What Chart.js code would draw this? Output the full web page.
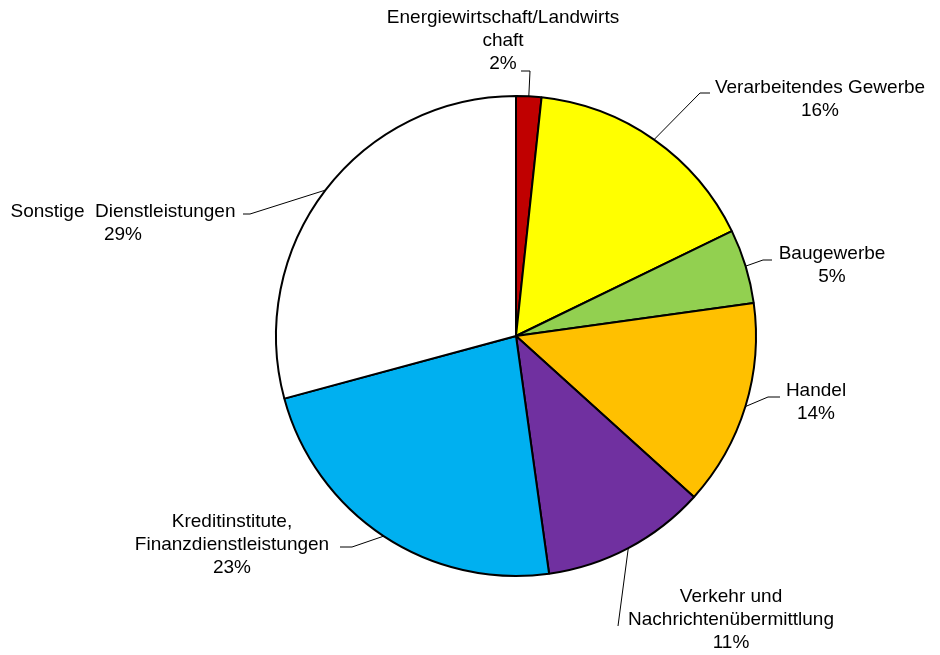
<!DOCTYPE html>
<html>
<head>
<meta charset="utf-8">
<script src="https://cdn.jsdelivr.net/npm/chart.js@4"></script>
<style>
  html, body { margin: 0; padding: 0; background: #fff; }
  #wrap { width: 940px; height: 655px; }
</style>
</head>
<body>
<div id="wrap"><canvas id="pie" width="940" height="655"></canvas></div>
<script>
(function () {
  "use strict";

  const categories = [
    "Energiewirtschaft/Landwirtschaft",
    "Verarbeitendes Gewerbe",
    "Baugewerbe",
    "Handel",
    "Verkehr und Nachrichtenübermittlung",
    "Kreditinstitute, Finanzdienstleistungen",
    "Sonstige Dienstleistungen",
  ];
  // shares in percent
  const shares = [1.7, 16.1, 5.0, 13.9, 11.1, 23.0, 29.2];
  const labelLines = [
    ["Energiewirtschaft/Landwirts", "chaft"],
    ["Verarbeitendes Gewerbe"],
    ["Baugewerbe"],
    ["Handel"],
    ["Verkehr und", "Nachrichtenübermittlung"],
    ["Kreditinstitute,", "Finanzdienstleistungen"],
    ["Sonstige  Dienstleistungen"],
  ];
  const colors = ["#c00000", "#ffff00", "#92d050", "#ffc000", "#7030a0", "#00b0f0", "#ffffff"];

  // label placement, relative to the pie centre
  const labelLayout = [
    { elbow: [14, -265], end: [5, -265], cx: -13, y0: -318 },
    { elbow: [184, -243], end: [194, -243], cx: 304, y0: -248 },
    { elbow: [247, -76], end: [256, -76], cx: 316, y0: -82 },
    { elbow: [252, 61], end: [264, 61], cx: 300, y0: 55 },
    { elbow: [102, 290], end: [102, 290], cx: 215, y0: 261 },
    { elbow: [-164, 211], end: [-176, 211], cx: -284, y0: 186 },
    { elbow: [-266, -122], end: [-273, -122], cx: -393, y0: -124 },
  ];

  const FONT = '19px "Liberation Sans", Arial, sans-serif';
  const LINE_H = 23;

  const total = shares.reduce((a, b) => a + b, 0);

  const leaderLabels = {
    id: "leaderLabels",
    afterDatasetsDraw(chart) {
      const ctx = chart.ctx;
      const arcs = chart.getDatasetMeta(0).data;
      ctx.save();
      ctx.font = FONT;
      ctx.fillStyle = "#000";
      ctx.strokeStyle = "#000";
      ctx.lineWidth = 1;
      ctx.textBaseline = "middle";
      ctx.textAlign = "center";

      arcs.forEach((arc, i) => {
        const p = arc.getProps(["x", "y", "startAngle", "endAngle", "outerRadius"], true);
        const mid = (p.startAngle + p.endAngle) / 2;
        const ex = p.x + Math.cos(mid) * p.outerRadius;
        const ey = p.y + Math.sin(mid) * p.outerRadius;
        const lay = labelLayout[i];

        // leader line: slice edge -> elbow -> short horizontal
        ctx.beginPath();
        ctx.moveTo(ex, ey);
        ctx.lineTo(p.x + lay.elbow[0], p.y + lay.elbow[1]);
        ctx.lineTo(p.x + lay.end[0], p.y + lay.end[1]);
        ctx.stroke();

        const pct = Math.round((shares[i] / total) * 100) + "%";
        const lines = labelLines[i].concat([pct]);
        lines.forEach((txt, k) => {
          ctx.fillText(txt, p.x + lay.cx, p.y + lay.y0 + k * LINE_H);
        });
      });
      ctx.restore();
    },
  };

  new Chart(document.getElementById("pie"), {
    type: "pie",
    data: {
      labels: categories,
      datasets: [
        {
          data: shares,
          backgroundColor: colors,
          borderColor: "#000",
          borderWidth: 2,
          radius: 240,
        },
      ],
    },
    options: {
      responsive: false,
      animation: false,
      events: [],
      layout: { padding: { left: 92, right: 0, top: 17, bottom: 0 } },
      plugins: {
        legend: { display: false },
        tooltip: { enabled: false },
      },
    },
    plugins: [leaderLabels],
  });
})();
</script>
</body>
</html>
